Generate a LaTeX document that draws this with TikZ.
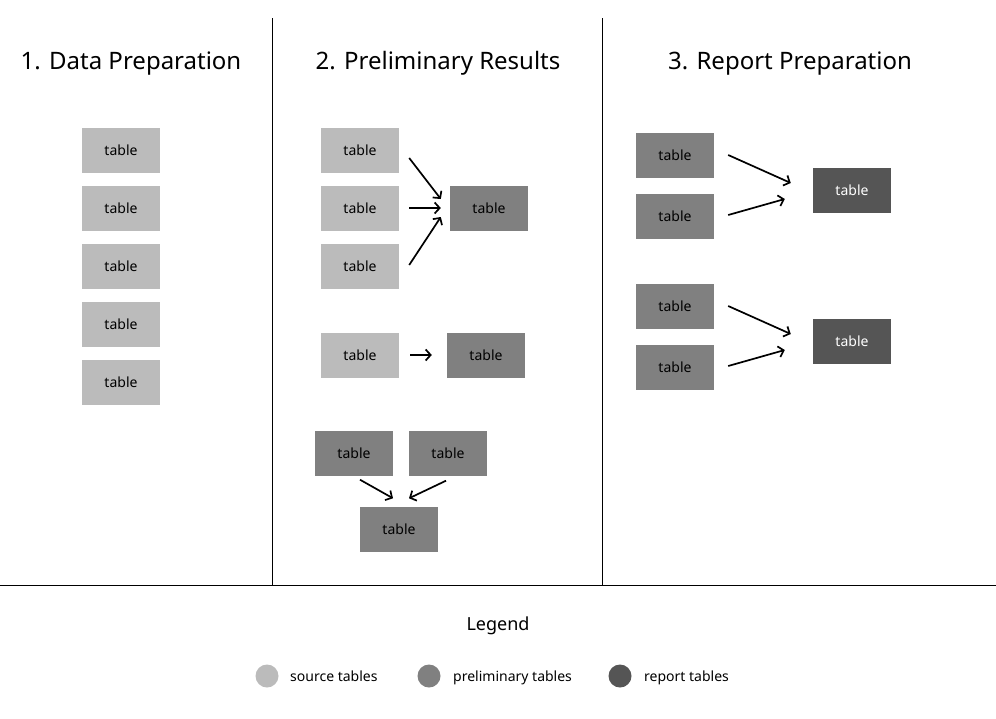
\documentclass[tikz,border=0pt]{standalone}
\usepackage{fontspec}
\setmainfont{Noto Sans}
\usepackage{tikz}
\usetikzlibrary{calc, arrows.meta}

\definecolor{srcgray}{HTML}{BBBBBB}
\definecolor{pregray}{HTML}{808080}
\definecolor{repgray}{HTML}{555555}

\begin{document}
\begin{tikzpicture}[x=1pt, y=-1pt, node distance=58pt,
   tbl/.style={rectangle, minimum width=78pt, minimum height=45pt, inner sep=0pt, font=\fontsize{14}{16}\selectfont},
   source node/.style={tbl, fill=srcgray, text=black},
   prelim node/.style={tbl, fill=pregray, text=black},
   report node/.style={tbl, fill=repgray, text=white},
   arr/.style={-{Straight Barb[length=5pt, width=11pt]}, line width=1.7pt},
   title/.style={font=\fontsize{24}{28}\selectfont, text height=17pt, text depth=5pt},
   key/.style={circle, minimum size=23pt, inner sep=0pt},
   keytext/.style={anchor=west, inner sep=1pt, text height=10pt, text depth=3pt, font=\fontsize{14}{16}\selectfont}]
   \useasboundingbox (0,0) rectangle (996,718);

   % dividers
   \draw[thin] (272,18) -- (272,585);
   \draw[thin] (602,18) -- (602,585);
   \draw[thin] (0,585) -- (996,585);

   \node[title] (t1) at (131,63) {1. Data Preparation};
   \node[title] (t2) at (438,63) {2. Preliminary Results};
   \node[title] (t3) at (790,63) {3. Report Preparation};

   % column 1
   \node[source node] (a1) at (121,150) {table};
   \node[source node] (a2) [below of=a1] {table};
   \node[source node] (a3) [below of=a2] {table};
   \node[source node] (a4) [below of=a3] {table};
   \node[source node] (a5) [below of=a4] {table};

   % column 2
   \node[source node] (b1) at (360,150) {table};
   \node[source node] (b2) [below of=b1] {table};
   \node[source node] (b3) [below of=b2] {table};
   \node[prelim node] (b4) at (489,208) {table};
   \node[source node] (b5) at (360,355) {table};
   \node[prelim node] (b6) at (486,355) {table};
   \node[prelim node] (b7) at (354,453) {table};
   \node[prelim node] (b8) at (448,453) {table};
   \node[prelim node] (b9) at (399,529) {table};

   \draw[arr] ([shift={(10,8)}]b1.east) -- ([shift={(-9,-9)}]b4.west);
   \draw[arr] ([shift={(10,0)}]b2.east) -- ([shift={(-9,0)}]b4.west);
   \draw[arr] ([shift={(10,-1)}]b3.east) -- ([shift={(-9,9)}]b4.west);
   \draw[arr] ([shift={(11,0)}]b5.east) -- ([shift={(-15,0)}]b6.west);
   \draw[arr] ([shift={(6,4)}]b7.south) -- ([shift={(-6,-8)}]b9.north);
   \draw[arr] ([shift={(-2,5)}]b8.south) -- ([shift={(10,-8)}]b9.north);

   % column 3
   \node[prelim node] (c1) at (675,155) {table};
   \node[prelim node] (c2) at (675,216) {table};
   \node[report node] (c3) at (852,190) {table};
   \node[prelim node] (c4) at (675,306) {table};
   \node[prelim node] (c5) at (675,367) {table};
   \node[report node] (c6) at (852,341) {table};

   \draw[arr] ([shift={(14,0)}]c1.east) -- ([shift={(-22,-7)}]c3.west);
   \draw[arr] ([shift={(14,-1)}]c2.east) -- ([shift={(-28,9)}]c3.west);
   \draw[arr] ([shift={(14,0)}]c4.east) -- ([shift={(-22,-7)}]c6.west);
   \draw[arr] ([shift={(14,-1)}]c5.east) -- ([shift={(-28,9)}]c6.west);

   % legend
   \node[font=\fontsize{18}{21}\selectfont] (leg) at (498,626) {Legend};
   \node[key, fill=srcgray] (k1) at (267,676) {};
   \node[key, fill=pregray] (k2) at (429,676) {};
   \node[key, fill=repgray] (k3) at (620,676) {};
   \node[keytext] (l1) at (289,678) {source tables};
   \node[keytext] (l2) at (452,678) {preliminary tables};
   \node[keytext] (l3) at (643,678) {report tables};
\end{tikzpicture}
\end{document}
